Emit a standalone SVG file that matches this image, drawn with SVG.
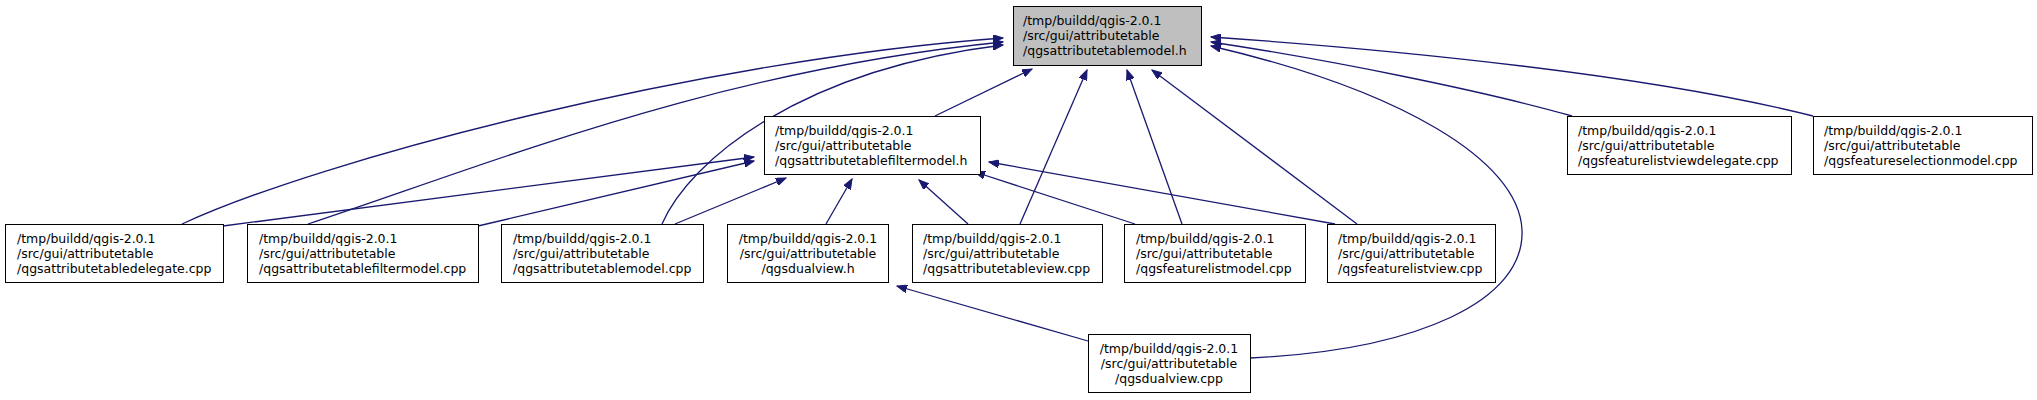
<svg xmlns="http://www.w3.org/2000/svg" width="2037" height="400" viewBox="0 0 2037 400">
<style>
.n rect{fill:#ffffff;stroke:#000;stroke-width:1}
.n.h rect{fill:#bfbfbf}
.n text{font-family:"DejaVu Sans",sans-serif;font-size:12.5px;fill:#000}
.e path{fill:none;stroke:#191970;stroke-width:1.3}
</style>
<defs>
<marker id="a" markerUnits="userSpaceOnUse" markerWidth="11" markerHeight="8" refX="10" refY="4" orient="auto">
<path d="M0,0 L10,4 L0,8 z" fill="#191970" stroke="#191970" stroke-width="1"/>
</marker>
</defs>
<rect width="2037" height="400" fill="#fff"/>
<g id="edges" class="e">
<path marker-end="url(#a)" d="M182,224 C320,160 700,60 1003,38"/>
<path marker-end="url(#a)" d="M308,224 C500,160 720,70 1003,42"/>
<path marker-end="url(#a)" d="M662,224 C690,160 800,70 1003,45"/>
<path marker-end="url(#a)" d="M935,116 L1032,69"/>
<path marker-end="url(#a)" d="M1020,224 L1087,70"/>
<path marker-end="url(#a)" d="M1182,224 L1127,70"/>
<path marker-end="url(#a)" d="M1357,224 L1152,70"/>
<path marker-end="url(#a)" d="M1250,358 C1420,350 1525,300 1522,230 C1519,160 1400,90 1211,46"/>
<path marker-end="url(#a)" d="M1572,116 C1480,90 1330,60 1211,42"/>
<path marker-end="url(#a)" d="M1813,116 C1650,75 1400,50 1211,37"/>
<path marker-end="url(#a)" d="M223,226 L754,157"/>
<path marker-end="url(#a)" d="M478,226 L754,161"/>
<path marker-end="url(#a)" d="M675,224 L786,178"/>
<path marker-end="url(#a)" d="M826,224 L852,179"/>
<path marker-end="url(#a)" d="M968,224 L919,180"/>
<path marker-end="url(#a)" d="M1135,224 L975,172"/>
<path marker-end="url(#a)" d="M1335,224 L989,162"/>
<path marker-end="url(#a)" d="M1088,341 L897,286"/>
</g>
<g id="n_qgsattributetablemodel_h" class="n h">
<rect x="1013.5" y="6.5" width="188" height="59"/>
<text x="1023" y="25">/tmp/buildd/qgis-2.0.1</text>
<text x="1023" y="40">/src/gui/attributetable</text>
<text x="1023" y="55">/qgsattributetablemodel.h</text>
</g>
<g id="n_qgsattributetablefiltermodel_h" class="n">
<rect x="764.5" y="116.5" width="216" height="58"/>
<text x="775" y="135">/tmp/buildd/qgis-2.0.1</text>
<text x="775" y="150">/src/gui/attributetable</text>
<text x="775" y="165">/qgsattributetablefiltermodel.h</text>
</g>
<g id="n_qgsfeaturelistviewdelegate_cpp" class="n">
<rect x="1567.5" y="116.5" width="224" height="58"/>
<text x="1578" y="135">/tmp/buildd/qgis-2.0.1</text>
<text x="1578" y="150">/src/gui/attributetable</text>
<text x="1578" y="165">/qgsfeaturelistviewdelegate.cpp</text>
</g>
<g id="n_qgsfeatureselectionmodel_cpp" class="n">
<rect x="1813.5" y="116.5" width="219" height="58"/>
<text x="1824" y="135">/tmp/buildd/qgis-2.0.1</text>
<text x="1824" y="150">/src/gui/attributetable</text>
<text x="1824" y="165">/qgsfeatureselectionmodel.cpp</text>
</g>
<g id="n_qgsattributetabledelegate_cpp" class="n">
<rect x="5.5" y="224.5" width="218" height="58"/>
<text x="17" y="243">/tmp/buildd/qgis-2.0.1</text>
<text x="17" y="258">/src/gui/attributetable</text>
<text x="17" y="273">/qgsattributetabledelegate.cpp</text>
</g>
<g id="n_qgsattributetablefiltermodel_cpp" class="n">
<rect x="247.5" y="224.5" width="231" height="58"/>
<text x="259" y="243">/tmp/buildd/qgis-2.0.1</text>
<text x="259" y="258">/src/gui/attributetable</text>
<text x="259" y="273">/qgsattributetablefiltermodel.cpp</text>
</g>
<g id="n_qgsattributetablemodel_cpp" class="n">
<rect x="501.5" y="224.5" width="202" height="58"/>
<text x="513" y="243">/tmp/buildd/qgis-2.0.1</text>
<text x="513" y="258">/src/gui/attributetable</text>
<text x="513" y="273">/qgsattributetablemodel.cpp</text>
</g>
<g id="n_qgsdualview_h" class="n">
<rect x="727.5" y="224.5" width="161" height="58"/>
<text x="808" y="243" text-anchor="middle">/tmp/buildd/qgis-2.0.1</text>
<text x="808" y="258" text-anchor="middle">/src/gui/attributetable</text>
<text x="808" y="273" text-anchor="middle">/qgsdualview.h</text>
</g>
<g id="n_qgsattributetableview_cpp" class="n">
<rect x="912.5" y="224.5" width="190" height="58"/>
<text x="923" y="243">/tmp/buildd/qgis-2.0.1</text>
<text x="923" y="258">/src/gui/attributetable</text>
<text x="923" y="273">/qgsattributetableview.cpp</text>
</g>
<g id="n_qgsfeaturelistmodel_cpp" class="n">
<rect x="1124.5" y="224.5" width="181" height="58"/>
<text x="1136" y="243">/tmp/buildd/qgis-2.0.1</text>
<text x="1136" y="258">/src/gui/attributetable</text>
<text x="1136" y="273">/qgsfeaturelistmodel.cpp</text>
</g>
<g id="n_qgsfeaturelistview_cpp" class="n">
<rect x="1327.5" y="224.5" width="168" height="58"/>
<text x="1338" y="243">/tmp/buildd/qgis-2.0.1</text>
<text x="1338" y="258">/src/gui/attributetable</text>
<text x="1338" y="273">/qgsfeaturelistview.cpp</text>
</g>
<g id="n_qgsdualview_cpp" class="n">
<rect x="1088.5" y="334.5" width="162" height="58"/>
<text x="1169" y="353" text-anchor="middle">/tmp/buildd/qgis-2.0.1</text>
<text x="1169" y="368" text-anchor="middle">/src/gui/attributetable</text>
<text x="1169" y="383" text-anchor="middle">/qgsdualview.cpp</text>
</g>
</svg>
